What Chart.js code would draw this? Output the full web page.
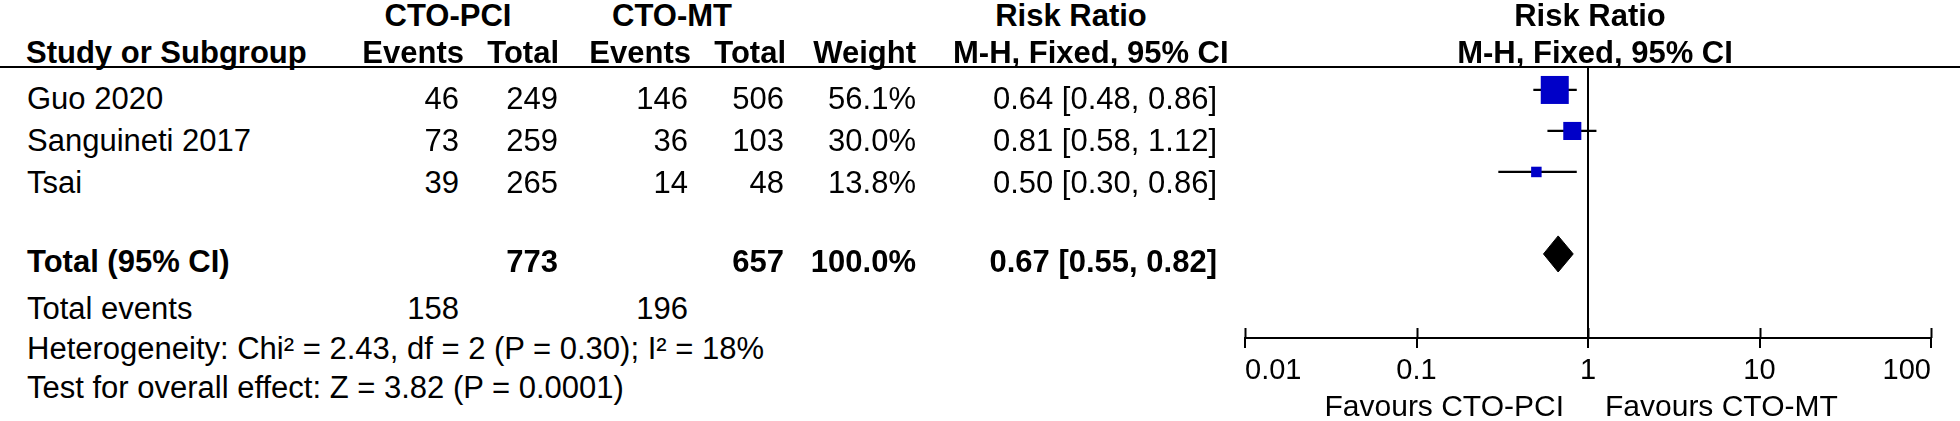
<!DOCTYPE html>
<html>
<head>
<meta charset="utf-8">
<script src="https://cdn.jsdelivr.net/npm/chart.js@4.4.1/dist/chart.umd.min.js"></script>
<style>
  html, body { margin: 0; padding: 0; background: #fff; }
  #wrap { position: relative; width: 1960px; height: 421px; overflow: hidden;
          font-family: 'Liberation Sans', Arial, sans-serif; color: #000; }
  .t { position: absolute; white-space: pre; }
  .b { font-weight: bold; }
  #hline { position: absolute; left: 0; top: 66px; width: 1960px; height: 2px; background: #000; }
  #plot { position: absolute; left: 1180px; top: 0; width: 780px; height: 421px; }
</style>
</head>
<body>
<div id="wrap">
  <div id="hline"></div>
  <div id="plot"><canvas id="forest"></canvas></div>
</div>
<script>
// study data
const studies = ['Guo 2020', 'Sanguineti 2017', 'Tsai'];
const pciEvents = [46, 73, 39];
const pciTotal = [249, 259, 265];
const mtEvents = [146, 36, 14];
const mtTotal = [506, 103, 48];
const weights = [56.1, 30.0, 13.8];
const rr = [0.64, 0.81, 0.50];
const rrLow = [0.48, 0.58, 0.30];
const rrHigh = [0.86, 1.12, 0.86];

// pooled result
const totalPci = 773;
const totalMt = 657;
const totalWeight = 100.0;
const totalRR = 0.67;
const totalLow = 0.55;
const totalHigh = 0.82;
const totalEventsPci = 158;
const totalEventsMt = 196;
const heterogeneity = 'Heterogeneity: Chi\u00b2 = 2.43, df = 2 (P = 0.30); I\u00b2 = 18%';
const overallTest = 'Test for overall effect: Z = 3.82 (P = 0.0001)';

// axis
const tickValues = [0.01, 0.1, 1, 10, 100];
const tickLabels = ['0.01', '0.1', '1', '10', '100'];
const favourLeft = 'Favours CTO-PCI';
const favourRight = 'Favours CTO-MT';

const FONT = "'Liberation Sans', Arial, sans-serif";
const wrap = document.getElementById('wrap');

// y is the centre of the capitals
function put(text, x, y, align, bold, size) {
    size = size || 31;
    const d = document.createElement('div');
    d.className = 't' + (bold ? ' b' : '');
    d.textContent = text;
    d.style.fontSize = size + 'px';
    d.style.lineHeight = size + 'px';
    d.style.top = Math.round(y - 0.4885 * size) + 'px';
    if (align === 'right') d.style.right = (1960 - x) + 'px';
    else d.style.left = x + 'px';
    if (align === 'center') d.style.transform = 'translateX(-50%)';
    wrap.appendChild(d);
}

const ci = (m, l, h) => `${m.toFixed(2)} [${l.toFixed(2)}, ${h.toFixed(2)}]`;

// column edges
const colName = 27, colE1 = 459, colT1 = 558, colE2 = 688, colT2 = 784, colW = 916, colRR = 1217;

// header
put('CTO-PCI', 448, 15, 'center', true);
put('CTO-MT', 672, 15, 'center', true);
put('Risk Ratio', 1071, 15, 'center', true);
put('Risk Ratio', 1590, 15, 'center', true);
put('Study or Subgroup', 26, 52, 'left', true);
put('Events', 464, 52, 'right', true);
put('Total', 559, 52, 'right', true);
put('Events', 691, 52, 'right', true);
put('Total', 786, 52, 'right', true);
put('Weight', 916, 52, 'right', true);
put('M-H, Fixed, 95% CI', 953, 52, 'left', true);
put('M-H, Fixed, 95% CI', 1595, 52, 'center', true);

// study rows
const rowText = [98, 140, 182];
studies.forEach((s, i) => {
    const y = rowText[i];
    put(s, colName, y, 'left');
    put(String(pciEvents[i]), colE1, y, 'right');
    put(String(pciTotal[i]), colT1, y, 'right');
    put(String(mtEvents[i]), colE2, y, 'right');
    put(String(mtTotal[i]), colT2, y, 'right');
    put(weights[i].toFixed(1) + '%', colW, y, 'right');
    put(ci(rr[i], rrLow[i], rrHigh[i]), colRR, y, 'right');
});

// totals
put('Total (95% CI)', colName, 261, 'left', true);
put(String(totalPci), colT1, 261, 'right', true);
put(String(totalMt), colT2, 261, 'right', true);
put(totalWeight.toFixed(1) + '%', colW, 261, 'right', true);
put(ci(totalRR, totalLow, totalHigh), colRR, 261, 'right', true);
put('Total events', colName, 308, 'left');
put(String(totalEventsPci), colE1, 308, 'right');
put(String(totalEventsMt), colE2, 308, 'right');
put(heterogeneity, colName, 348, 'left');
put(overallTest, colName, 387, 'left');

put(favourLeft, 1564, 406, 'right', false, 30);
put(favourRight, 1605, 406, 'left', false, 30);

// forest plot
const yMin = 0.44, yMax = 7.05;
const rowOf = i => i + 1;
const totalRow = studies.length + 2;
const diamondHalf = 0.44;

const datasets = [];
datasets.push({
    type: 'line',
    data: [{x: 1, y: yMin}, {x: 1, y: yMax}],
    borderColor: '#000', borderWidth: 2, pointRadius: 0, order: 3
});
studies.forEach((s, i) => {
    datasets.push({
        type: 'line',
        data: [{x: rrLow[i], y: rowOf(i)}, {x: rrHigh[i], y: rowOf(i)}],
        borderColor: '#000', borderWidth: 2.2, pointRadius: 0, order: 2
    });
});
datasets.push({
    type: 'scatter',
    data: rr.map((v, i) => ({x: v, y: rowOf(i)})),
    pointStyle: 'rect',
    pointRadius: weights.map(w => 28 * Math.pow(w / weights[0], 0.7) / Math.SQRT2),
    backgroundColor: '#0000c8', borderColor: '#0000c8', borderWidth: 0, order: 1
});
datasets.push({
    type: 'line',
    data: [
        {x: totalLow, y: totalRow},
        {x: totalRR, y: totalRow - diamondHalf},
        {x: totalHigh, y: totalRow},
        {x: totalRR, y: totalRow + diamondHalf},
        {x: totalLow, y: totalRow}
    ],
    borderColor: '#000', backgroundColor: '#000', borderWidth: 1,
    pointRadius: 0, fill: 'shape', order: 0
});

// tick marks also reach above the axis line
const upTicks = {
    id: 'upTicks',
    afterDraw(chart) {
        const sx = chart.scales.x, ctx = chart.ctx, y0 = chart.chartArea.bottom;
        ctx.save();
        ctx.strokeStyle = '#000';
        ctx.lineWidth = 2;
        sx.ticks.forEach((t, i) => {
            const px = Math.round(sx.getPixelForTick(i)) + 0.5;
            ctx.beginPath();
            ctx.moveTo(px, y0 - 10);
            ctx.lineTo(px, y0);
            ctx.stroke();
        });
        ctx.restore();
    }
};

new Chart(document.getElementById('forest'), {
    type: 'scatter',
    data: { datasets: datasets },
    plugins: [upTicks],
    options: {
        responsive: true,
        maintainAspectRatio: false,
        animation: false,
        events: [],
        layout: { padding: { left: 65, right: 29, top: 67, bottom: 0 } },
        plugins: { legend: { display: false }, tooltip: { enabled: false } },
        scales: {
            x: {
                type: 'logarithmic',
                min: 0.01,
                max: 100,
                afterBuildTicks: s => { s.ticks = tickValues.map(v => ({ value: v })); },
                afterFit: s => { s.height = 83; },
                border: { display: true, color: '#000', width: 2 },
                grid: { drawOnChartArea: false, drawTicks: true, tickLength: 10, color: '#000', lineWidth: 2 },
                ticks: {
                    align: 'inner', color: '#000', padding: 6, autoSkip: false, maxRotation: 0,
                    font: { family: FONT, size: 29 },
                    callback: (v, i) => tickLabels[i]
                }
            },
            y: { type: 'linear', reverse: true, min: yMin, max: yMax, display: false }
        }
    }
});
</script>
</body>
</html>
